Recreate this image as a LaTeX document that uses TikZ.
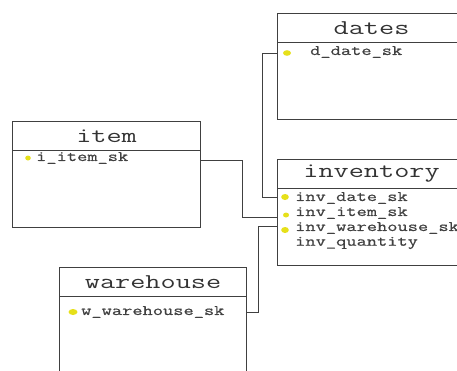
\documentclass[tikz,border=0pt]{standalone}
\usepackage{fontspec}
\usepackage{tikz}
\usetikzlibrary{positioning,calc}
\newfontfamily\titlefont[FakeStretch=1.4]{Latin Modern Mono}
\newfontfamily\tblfont[FakeStretch=1.37, FakeBold=0.6]{Latin Modern Mono}
\definecolor{linegray}{HTML}{404040}
\definecolor{keyyellow}{HTML}{E6E01A}

\begin{document}
\begin{tikzpicture}[x=1pt, y=-1pt,
    tablebox/.style={draw=linegray, line width=1.1pt, minimum width=188pt, minimum height=106pt, anchor=north west, inner sep=0pt},
    tabletitle/.style={font=\titlefont\fontsize{21}{21}\selectfont, text=black!80, inner sep=0pt},
    field/.style={font=\tblfont\fontsize{14.5}{15}\selectfont, text=black!75, anchor=west, inner sep=0pt},
    link/.style={draw=linegray, line width=1pt}]
  \useasboundingbox (0,0) rectangle (457,370);

  % --- Tables ---
  \node[tablebox] (dates)     at (277,13)  {};
  \node[tablebox] (item)      at (12,121)  {};
  \node[tablebox] (inventory) at (277,159) {};
  \node[tablebox, minimum width=187pt] (warehouse) at (59,267) {};

  % --- Header lines and titles ---
  \foreach \t in {dates,item,inventory,warehouse}{
    \draw[linegray, line width=0.9pt]
      ([yshift=-29pt]\t.north west) -- ([yshift=-29pt]\t.north east);
  }
  \node[tabletitle] (datesT)     at ($(dates.north)+(0,15)$)     {dates};
  \node[tabletitle] (itemT)      at ($(item.north)+(0,15)$)      {item};
  \node[tabletitle] (inventoryT) at ($(inventory.north)+(0,15)$) {inventory};
  \node[tabletitle] (warehouseT) at ($(warehouse.north)+(0,15)$) {warehouse};

  % --- Fields ---
  \node[field] (ddate)  at (310,52)  {d\_date\_sk};
  \node[field] (iitem)  at (36,158)  {i\_item\_sk};
  \node[field] (invdate) at (295,198) {inv\_date\_sk};
  \node[field] (invitem) at (295,213) {inv\_item\_sk};
  \node[field] (invwh)   at (295,228) {inv\_warehouse\_sk};
  \node[field] (invqty)  at (295,243) {inv\_quantity};
  \node[field] (wwh)    at (81,312)  {w\_warehouse\_sk};

  % --- Key markers ---
  \fill[keyyellow] (287,53)  ellipse (4pt and 2.8pt);
  \fill[keyyellow] (28,158)  ellipse (2.8pt and 2.5pt);
  \fill[keyyellow] (285,197) ellipse (3.8pt and 3pt);
  \fill[keyyellow] (286,215) ellipse (3pt and 2.5pt);
  \fill[keyyellow] (285,230) ellipse (3.8pt and 3pt);
  \fill[keyyellow] (73,312)  ellipse (4.5pt and 3pt);

  % --- Connectors: table edge -> inventory ---
  \draw[link] ([yshift=-1pt]dates.west |- ddate) -- ++(-15,0)
    |- ([yshift=1pt]inventory.west |- invdate);
  \draw[link] ([yshift=-2pt]item.east |- iitem) -- ++(41,0)
    |- ([yshift=-4pt]inventory.west |- invitem);
  \draw[link] (warehouse.east |- wwh) -- ++(11,0)
    |- ([yshift=2pt]inventory.west |- invwh);
\end{tikzpicture}
\end{document}
